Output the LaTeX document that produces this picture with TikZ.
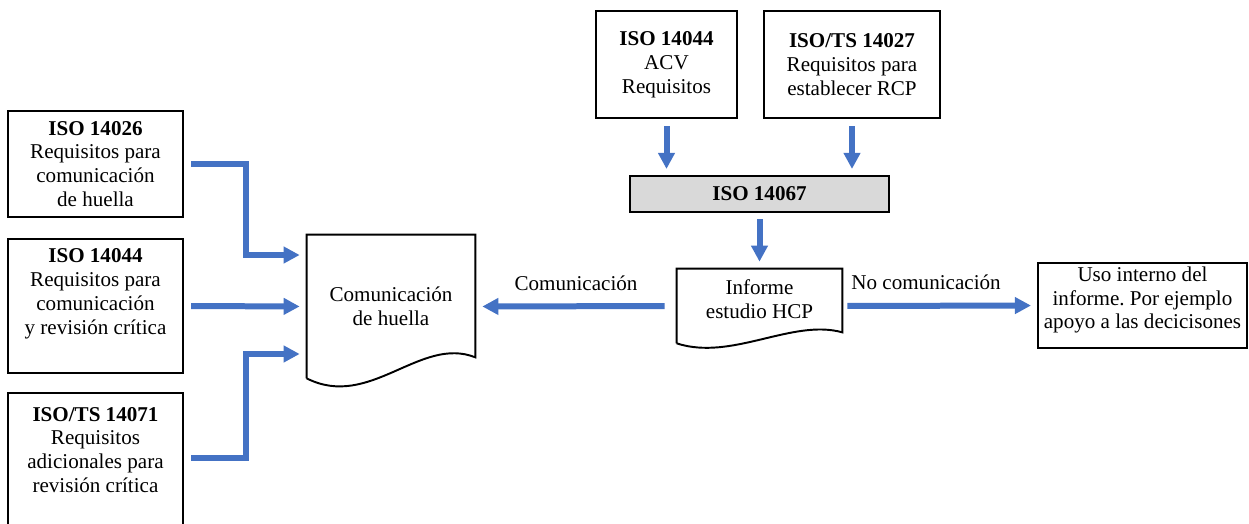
\documentclass[tikz,border=0pt]{standalone}
\usepackage{fontspec}
\setmainfont{Liberation Serif}
\frenchspacing
\usetikzlibrary{arrows.meta}
\definecolor{flowblue}{HTML}{4472C4}
\definecolor{normgray}{HTML}{D9D9D9}

\begin{document}
\begin{tikzpicture}[x=0.02cm,y=-0.02cm,
  normbox/.style={draw,line width=1.2pt,align=center,inner sep=0pt,font=\fontsize{12}{13.6}\selectfont},
  normtext/.style={align=center,inner sep=0pt,font=\fontsize{12}{13.6}\selectfont},
  docnode/.style={align=center,inner sep=0pt,font=\fontsize{12}{13.6}\selectfont},
  docline/.style={draw,line width=1.1pt},
  flow/.style={draw=flowblue,line width=0.12cm,-{Triangle[length=0.32cm,width=0.32cm]}}]

  \clip (0,0) rectangle (1249,524);

  % normas de la izquierda
  \node[normbox,minimum width=3.5cm,minimum height=2.12cm] (b26) at (95.5,164)
    {\textbf{ISO 14026}\\Requisitos para\\comunicación\\de huella};
  \node[normbox,minimum width=3.5cm,minimum height=2.68cm] (b44) at (95.5,306) {};
  \node[normtext] (t44) at (95.5,294)
    {\textbf{ISO 14044}\\Requisitos para\\comunicación\\y revisión crítica};
  \node[normbox,minimum width=3.5cm,minimum height=2.84cm] (b71) at (95.5,464) {};
  \node[normtext] (t71) at (95.5,450)
    {\textbf{ISO/TS 14071}\\Requisitos\\adicionales para\\revisión crítica};

  % normas de arriba
  \node[normbox,minimum width=2.82cm,minimum height=2.14cm] (acv) at (666.5,64.5)
    {\textbf{ISO 14044}\\ACV\\Requisitos};
  \node[normbox,minimum width=3.52cm,minimum height=2.14cm] (rcp) at (852,64.5)
    {\textbf{ISO/TS 14027}\\Requisitos para\\establecer RCP};
  \node[normbox,fill=normgray,minimum width=5.18cm,minimum height=0.72cm] (iso67) at (759.5,194)
    {\textbf{ISO 14067}};

  % documentos
  \node[docnode,minimum width=3.36cm,minimum height=2.86cm] (huella) at (391,306.5)
    {Comunicación\\de huella};
  \draw[docline] (huella.south west) -- (huella.north west) -- (huella.north east)
    -- ([yshift=0.42cm]huella.south east)
    .. controls +(-55,-22) and +(63,32) .. (huella.south west);

  \node[docnode,minimum width=3.3cm,minimum height=1.2cm] (informe) at (759.5,299)
    {Informe\\estudio HCP};
  \draw[docline] ([yshift=-0.28cm]informe.south west) -- (informe.north west) -- (informe.north east)
    -- ([yshift=-0.06cm]informe.south east)
    .. controls +(-50,-14) and +(55,18) .. ([yshift=-0.28cm]informe.south west);

  \node[normbox,minimum width=4.18cm,minimum height=1.7cm] (uso) at (1142.5,305.5) {};
  \node[normtext] (tuso) at (1142.5,300)
    {Uso interno del\\informe. Por ejemplo\\apoyo a las decicisones};

  % flechas
  \draw[flow,shorten <=0.14cm,shorten >=0.14cm] (b26.east) -- ++(62,0) |- ([yshift=1.03cm]huella.west);
  \draw[flow,shorten <=0.14cm,shorten >=0.14cm] (b44.east) -- (huella.west);
  \draw[flow,shorten <=0.14cm,shorten >=0.14cm] ([yshift=0.12cm]b71.east) -- ++(62,0) |- ([yshift=-0.95cm]huella.west);

  \draw[flow,shorten <=0.14cm,shorten >=0.12cm] (acv.south) -- (acv.south |- iso67.north);
  \draw[flow,shorten <=0.14cm,shorten >=0.12cm] (rcp.south) -- (rcp.south |- iso67.north);
  \draw[flow,shorten <=0.12cm,shorten >=0.14cm] (iso67.south) -- (informe.north);

  \draw[flow,shorten <=0.24cm,shorten >=0.14cm] ([yshift=-0.14cm]informe.west) -- (huella.east)
    node[midway,above=4pt,font=\fontsize{12}{13.6}\selectfont] (com) {Comunicación};
  \draw[flow,shorten <=0.1cm,shorten >=0.12cm] ([yshift=-0.14cm]informe.east) -- (uso.west)
    node[pos=0.43,above=4pt,font=\fontsize{12}{13.6}\selectfont] (nocom) {No comunicación};
\end{tikzpicture}
\end{document}
